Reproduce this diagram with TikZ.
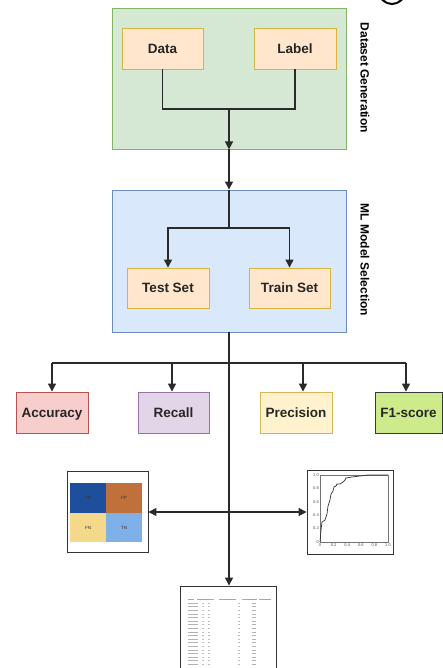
\documentclass[tikz,border=0pt]{standalone}
\usepackage{fontspec}
\setmainfont{Liberation Sans}
\usetikzlibrary{arrows.meta}
\definecolor{gfill}{HTML}{D5E8D4}\definecolor{gline}{HTML}{82B366}
\definecolor{bfill}{HTML}{DAE8FC}\definecolor{bline}{HTML}{6C8EBF}
\definecolor{ofill}{HTML}{FFE6CC}\definecolor{oline}{HTML}{D7B341}
\definecolor{rfill}{HTML}{F8CECC}\definecolor{rline}{HTML}{B85450}
\definecolor{pfill}{HTML}{E1D5E7}\definecolor{pline}{HTML}{9673A6}
\definecolor{yfill}{HTML}{FFF2CC}\definecolor{yline}{HTML}{D6B656}
\definecolor{lfill}{HTML}{CDEB8B}\definecolor{lline}{HTML}{36393D}
\definecolor{conn}{HTML}{2A2A2A}
\definecolor{tpc}{HTML}{1F4E9C}\definecolor{fpc}{HTML}{C0703A}
\definecolor{fnc}{HTML}{F5D98B}\definecolor{tnc}{HTML}{7FB0E8}
\tikzset{
  x=1pt,y=-1pt,
  grp/.style={draw=#1, line width=0.9pt, inner sep=0pt},
  ibox/.style={draw=oline, fill=ofill, line width=0.9pt, minimum height=41pt, inner sep=0pt, text height=9.7pt, text depth=0pt, font=\fontsize{13.5}{15}\selectfont\bfseries, text=black!85},
  mbox/.style={line width=0.9pt, minimum height=41pt, inner sep=0pt, text height=9.7pt, text depth=0pt, font=\fontsize{13.5}{15}\selectfont\bfseries, text=black!85},
  side/.style={rotate=-90, font=\fontsize{12}{14}\selectfont\bfseries},
  cnx/.style={draw=conn, line width=1.3pt},
  arr/.style={cnx, -{Triangle[width=8pt,length=8pt]}},
  frame/.style={draw=black!80, line width=0.9pt, fill=white, inner sep=0pt},
  tiny/.style={font=\fontsize{4}{5}\selectfont, text=black!70, inner sep=0pt},
}
\begin{document}
\begin{tikzpicture}
\useasboundingbox (0,0) rectangle (442,668);
\fill[white] (0,0) rectangle (442,668);
% top-right circle fragment
\draw[line width=2pt] (392,-9) circle (13);
% groups
\node[grp=gline, fill=gfill, minimum width=234pt, minimum height=141pt] (gen) at (229,78.5) {};
\node[grp=bline, fill=bfill, minimum width=234pt, minimum height=142pt] (sel) at (229,261) {};
\node[side] (genlab) at (365,78) {Dataset Generation};
\node[side] (sellab) at (365,260) {ML Model Selection};
% inner boxes
\node[ibox, minimum width=81pt] (data) at (162.5,48.5) {Data};
\node[ibox, minimum width=82pt] (label) at (295,48.5) {Label};
\node[ibox, minimum width=82pt, minimum height=40pt] (test) at (168,288) {Test Set};
\node[ibox, minimum width=81pt, minimum height=40pt] (train) at (289.5,288) {Train Set};
% metric boxes
\node[mbox, draw=rline, fill=rfill, minimum width=72pt] (acc) at (52,412.5) {Accuracy};
\node[mbox, draw=pline, fill=pfill, minimum width=71pt] (rec) at (173.5,412.5) {Recall};
\node[mbox, draw=yline, fill=yfill, minimum width=72pt] (prec) at (296,412.5) {Precision};
\node[mbox, draw=lline, fill=lfill, minimum width=67pt] (f1) at (408.5,412.5) {F1-score};
% image frames
\node[frame, minimum width=81pt, minimum height=81pt] (cm) at (107.5,512) {};
\node[frame, minimum width=86pt, minimum height=84pt] (roc) at (350,512) {};
\node[frame, minimum width=96pt, minimum height=84pt] (tab) at (228,628) {};
% confusion matrix
\fill[tpc] (70,483) rectangle (106,513);
\fill[fpc] (106,483) rectangle (142,513);
\fill[fnc] (70,513) rectangle (106,542);
\fill[tnc] (106,513) rectangle (142,542);
\node[tiny, font=\fontsize{4.5}{5}\selectfont, text=black!80] (tp) at (88,498) {TP};
\node[tiny, font=\fontsize{4.5}{5}\selectfont, text=black!80] (fp) at (124,498) {FP};
\node[tiny, font=\fontsize{4.5}{5}\selectfont, text=black!80] (fn) at (88,527.5) {FN};
\node[tiny, font=\fontsize{4.5}{5}\selectfont, text=black!80] (tn) at (124,527.5) {TN};
% ROC plot
\draw[black!55, line width=0.4pt] (320,475) rectangle (388,542);
\foreach \v/\l in {0/0,0.2/0.2,0.4/0.4,0.6/0.6,0.8/0.8,1/1.0}{
  \node[tiny, anchor=east] at (319,{542-67*\v}) {\l};
  \node[tiny, anchor=north] at ({320+68*\v},544) {\l};
}
\draw[black!80, line width=0.7pt] (320,542) -- (321,530) -- (322,522) -- (325,520) -- (327,514) -- (328,506) -- (330,500) -- (331,494) -- (333,491) -- (334,487) -- (336,486) -- (337,484) -- (340,484) -- (343,482) -- (345,480) -- (346,478) -- (352,477) -- (360,476) -- (368,475) -- (374,475) -- (388,475);
% table lines
\foreach \r in {0,...,17}{
  \draw[black!30, line width=0.5pt] (188,{603+3.6*\r}) -- (198,{603+3.6*\r});
  \draw[black!25, line width=0.5pt] (202,{603+3.6*\r}) -- (204,{603+3.6*\r});
  \draw[black!25, line width=0.5pt] (208,{603+3.6*\r}) -- (210,{603+3.6*\r});
  \draw[black!25, line width=0.5pt] (238,{603+3.6*\r}) -- (240,{603+3.6*\r});
  \draw[black!30, line width=0.5pt] (252,{603+3.6*\r}) -- (256,{603+3.6*\r});
}
\draw[black!35, line width=0.6pt] (188,599) -- (194,599) (197,599) -- (214,599) (219,599) -- (236,599) (242,599) -- (257,599) (259,599) -- (271,599);
% connectors
\coordinate (j1) at (229,109);
\draw[cnx] (data.south) |- (j1);
\draw[cnx] (label.south) |- (j1);
\draw[arr] (j1) -- (gen.south);
\draw[arr] (gen.south) -- (sel.north);
\coordinate (j2) at (229,228);
\draw[cnx] (sel.north) -- (j2);
\draw[arr] (j2) -| (test.north);
\draw[arr] (j2) -| (train.north);
\draw[arr] (sel.south) -- (tab.north -| sel.south);
\coordinate (b1) at (52,363);
\coordinate (b2) at (172,363);
\coordinate (b3) at (303,363);
\coordinate (b4) at (406,363);
\draw[cnx] (b1) -- (b4);
\draw[arr] (b1) -- (acc.north);
\draw[arr] (b2) -- (rec.north -| b2);
\draw[arr] (b3) -- (prec.north -| b3);
\draw[arr] (b4) -- (f1.north -| b4);
\draw[cnx, {Triangle[width=8pt,length=8pt]}-{Triangle[width=8pt,length=8pt]}] (cm.east) -- (roc.west);
\end{tikzpicture}
\end{document}
